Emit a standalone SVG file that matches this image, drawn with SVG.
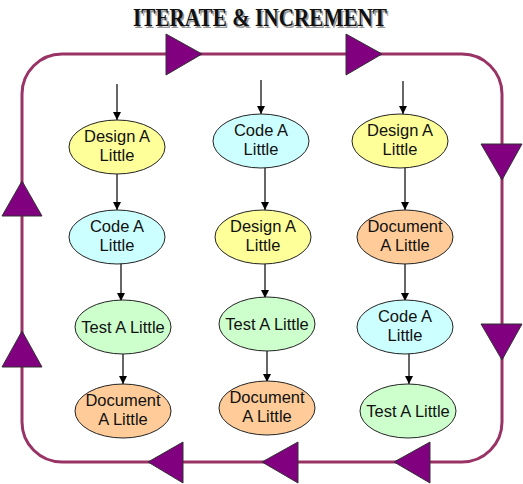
<svg xmlns="http://www.w3.org/2000/svg" width="523" height="484" viewBox="0 0 523 484">
<style>
.loop{fill:none;stroke:#993366;stroke-width:3}
.tri{fill:#800080;stroke:#333;stroke-width:1}
.n{stroke:#222;stroke-width:1}
.y{fill:#FFFF99}.c{fill:#CCFFFF}.g{fill:#CCFFCC}.o{fill:#FFCC99}
.t{font-family:"Liberation Sans",Arial,sans-serif;font-size:16.5px;fill:#111;text-anchor:middle}
.e{stroke:#000;stroke-width:1.2;fill:none;marker-end:url(#ah)}
.title{font-family:"Liberation Serif","DejaVu Serif",serif;font-weight:bold;font-size:25px;text-anchor:middle}
</style>
<defs>
<marker id="ah" viewBox="0 0 10 10" refX="10" refY="5" markerWidth="8" markerHeight="8" markerUnits="userSpaceOnUse" orient="auto">
<path d="M0,0 L10,5 L0,10 z" fill="#000"/>
</marker>
</defs>
<rect width="523" height="484" fill="#fff"/>
<g id="title">
<text class="title" x="261.5" y="27.5" fill="#999" textLength="254" lengthAdjust="spacingAndGlyphs">ITERATE &amp; INCREMENT</text>
<text class="title" x="260" y="26" fill="#111" textLength="254" lengthAdjust="spacingAndGlyphs">ITERATE &amp; INCREMENT</text>
</g>
<g id="loop">
<path class="loop" d="M62,54 H462 A40,40 0 0 1 502,94 V422 A40,40 0 0 1 462,462 H62 A40,40 0 0 1 22,422 V94 A40,40 0 0 1 62,54 Z"/>
<polygon class="tri" points="166,34 202,54 166,75"/>
<polygon class="tri" points="346,34 382,54 346,75"/>
<polygon class="tri" points="481,144 522,144 502,180"/>
<polygon class="tri" points="481,324 522,324 502,360"/>
<polygon class="tri" points="430,442 430,483 394,462"/>
<polygon class="tri" points="298,442 298,483 262,462"/>
<polygon class="tri" points="183,442 183,483 148,462"/>
<polygon class="tri" points="2,367 42,367 22,331"/>
<polygon class="tri" points="2,216 42,216 22,181"/>
</g>
<g id="connectors">
<path class="e" d="M117,84 V120"/>
<path class="e" d="M117,174 V210"/>
<path class="e" d="M121,263 V301"/>
<path class="e" d="M123,354 V384"/>
<path class="e" d="M261,80 V114"/>
<path class="e" d="M265,168 V210"/>
<path class="e" d="M265,264 V298"/>
<path class="e" d="M267,351 V382"/>
<path class="e" d="M403,81 V114"/>
<path class="e" d="M405,167 V210"/>
<path class="e" d="M405,264 V301"/>
<path class="e" d="M409,354 V384"/>
</g>
<g id="c1-design"><ellipse class="n y" cx="117" cy="147" rx="48" ry="27"/><text class="t" x="117" y="142">Design A</text><text class="t" x="117" y="161">Little</text></g>
<g id="c1-code"><ellipse class="n c" cx="117" cy="237" rx="48" ry="27"/><text class="t" x="117" y="232">Code A</text><text class="t" x="117" y="251">Little</text></g>
<g id="c1-test"><ellipse class="n g" cx="123" cy="327" rx="48" ry="27"/><text class="t" x="123" y="333">Test A Little</text></g>
<g id="c1-doc"><ellipse class="n o" cx="123" cy="411" rx="48" ry="27"/><text class="t" x="123" y="406">Document</text><text class="t" x="123" y="425">A Little</text></g>
<g id="c2-code"><ellipse class="n c" cx="261" cy="141" rx="48" ry="27"/><text class="t" x="261" y="136">Code A</text><text class="t" x="261" y="155">Little</text></g>
<g id="c2-design"><ellipse class="n y" cx="263" cy="237" rx="48" ry="27"/><text class="t" x="263" y="232">Design A</text><text class="t" x="263" y="251">Little</text></g>
<g id="c2-test"><ellipse class="n g" cx="267" cy="324" rx="48" ry="27"/><text class="t" x="267" y="330">Test A Little</text></g>
<g id="c2-doc"><ellipse class="n o" cx="267" cy="408" rx="48" ry="27"/><text class="t" x="267" y="403">Document</text><text class="t" x="267" y="422">A Little</text></g>
<g id="c3-design"><ellipse class="n y" cx="400" cy="141" rx="48" ry="27"/><text class="t" x="400" y="136">Design A</text><text class="t" x="400" y="155">Little</text></g>
<g id="c3-doc"><ellipse class="n o" cx="405" cy="237" rx="48" ry="27"/><text class="t" x="405" y="232">Document</text><text class="t" x="405" y="251">A Little</text></g>
<g id="c3-code"><ellipse class="n c" cx="405" cy="327" rx="48" ry="27"/><text class="t" x="405" y="322">Code A</text><text class="t" x="405" y="341">Little</text></g>
<g id="c3-test"><ellipse class="n g" cx="408" cy="411" rx="48" ry="27"/><text class="t" x="408" y="417">Test A Little</text></g>
</svg>
